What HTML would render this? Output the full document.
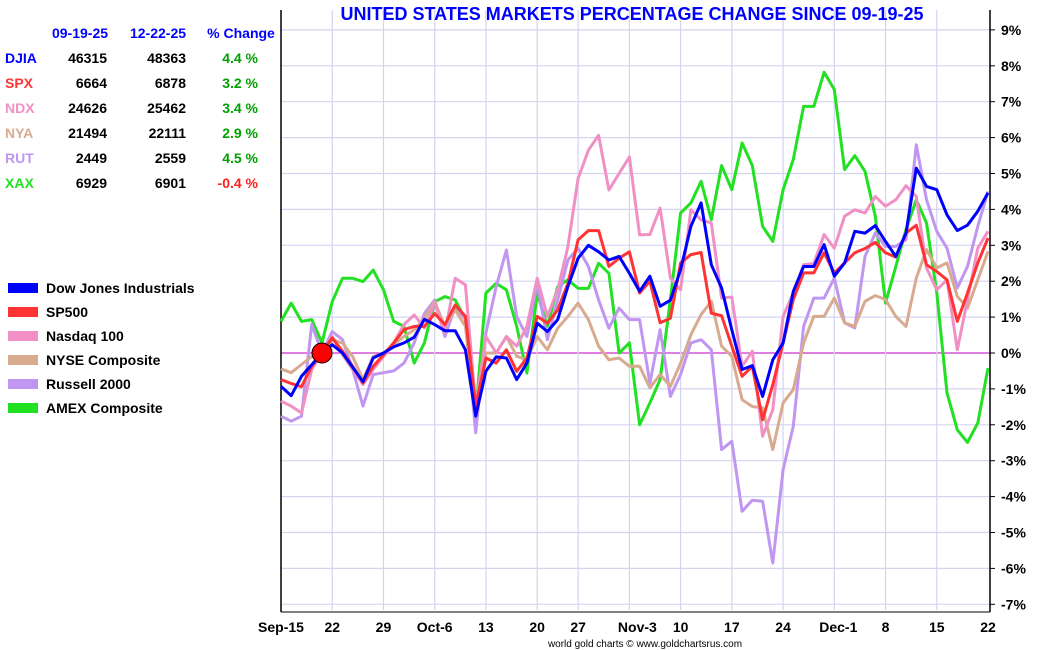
<!DOCTYPE html>
<html><head><meta charset="utf-8">
<style>
body{margin:0;background:#fff;width:1050px;height:650px;overflow:hidden;font-family:"Liberation Sans",sans-serif;}
svg{position:absolute;left:0;top:0}
text{font-family:"Liberation Sans",sans-serif;}
</style></head>
<body>
<svg id="chart" width="1050" height="650"></svg>
<script>
const dates=["Sep-15","22","29","Oct-6","13","20","27","Nov-3","10","17","24","Dec-1","8","15","22"];
const tickIdx=[0,5,10,15,20,25,29,34,39,44,49,54,59,64,69];
const yTicks=[9,8,7,6,5,4,3,2,1,0,-1,-2,-3,-4,-5,-6,-7];
const djia=[-0.93,-1.19,-0.65,-0.33,0,0.23,0,-0.4,-0.8,-0.14,0,0.17,0.28,0.44,0.94,0.79,0.62,0.62,0.09,-1.76,-0.51,-0.11,-0.14,-0.74,-0.28,0.83,0.6,0.93,1.85,2.64,3.0,2.82,2.59,2.69,2.22,1.72,2.14,1.3,1.47,2.32,3.53,4.18,2.46,1.81,0.65,-0.46,-0.35,-1.21,-0.19,0.28,1.72,2.41,2.41,3.02,2.14,2.51,3.39,3.34,3.55,3.11,2.69,3.34,5.15,4.64,4.55,3.85,3.41,3.56,3.95,4.46];
const spx=[-0.74,-0.85,-0.94,-0.37,0,0.42,0.05,-0.37,-0.83,-0.37,-0.05,0.28,0.65,0.74,0.74,1.1,0.79,1.34,1.02,-1.48,-0.14,-0.28,0.09,-0.51,-0.14,1.02,0.83,1.2,1.94,3.15,3.41,3.41,2.41,2.64,2.82,1.67,2.0,0.84,0.97,2.51,2.74,2.8,1.11,1.04,0.19,-0.65,-0.37,-1.86,-0.88,0.28,1.49,2.23,2.23,2.79,2.23,2.51,2.79,2.91,3.08,2.79,2.67,3.34,3.56,2.46,2.27,2.04,0.88,1.67,2.51,3.2];
const ndx=[-1.34,-1.48,-1.67,-0.46,0,0.46,-0.05,-0.46,-0.88,-0.46,-0.1,0.28,0.79,1.06,0.7,1.39,0.56,2.08,1.9,-1.48,0.46,0,0.46,0.19,0.74,2.08,1.02,1.76,2.96,4.86,5.65,6.06,4.54,5.0,5.46,3.29,3.3,4.04,2.09,1.76,3.99,3.71,3.62,1.53,1.56,-0.37,0.05,-2.32,-1.58,1.02,1.67,2.46,2.49,3.3,2.92,3.81,3.99,3.9,4.36,4.09,4.27,4.66,4.36,2.37,1.76,2.04,0.09,1.49,2.92,3.39];
const nya=[-0.44,-0.55,-0.32,-0.1,0,0.37,0.28,-0.1,-0.74,-0.1,0,0.23,0.46,0.65,0.97,1.43,0.74,1.2,0.74,-1.67,0,0,0.46,-0.09,-0.19,0.46,0.09,0.69,1.02,1.39,0.93,0.19,-0.19,-0.14,-0.37,-0.37,-0.97,-0.6,-0.93,-0.28,0.51,1.07,1.44,0.19,-0.09,-1.3,-1.49,-1.53,-2.69,-1.39,-1.02,0.28,1.02,1.02,1.53,0.84,0.74,1.44,1.6,1.49,1.02,0.74,2.09,2.88,2.37,2.51,1.58,1.25,2.04,2.83];
const rut=[-1.76,-1.9,-1.76,0.79,0,0.6,0.37,-0.46,-1.48,-0.6,-0.55,-0.5,-0.28,0.28,1.1,1.48,0.46,1.3,0.93,-2.22,0.56,1.85,2.87,1.02,0.46,1.94,0.37,1.48,2.59,2.92,2.41,1.48,0.69,1.25,0.93,0.93,-0.84,0.65,-1.21,-0.6,0.28,0.37,0.09,-2.69,-2.46,-4.41,-4.1,-4.13,-5.85,-3.25,-2.04,0.74,1.53,1.53,2.09,0.84,0.7,2.69,3.34,2.97,2.97,3.16,5.8,4.27,3.39,2.92,1.81,2.41,3.53,4.5];
const xax=[0.88,1.39,0.88,0.93,0.28,1.43,2.08,2.08,1.99,2.31,1.76,0.88,0.74,-0.28,0.28,1.43,1.57,1.48,0.93,-1.67,1.67,1.94,1.76,0.74,-0.56,1.67,0.74,1.85,2.04,1.8,1.8,2.5,2.22,0,0.28,-2.0,-1.39,-0.74,1.49,3.9,4.18,4.78,3.71,5.22,4.55,5.85,5.22,3.53,3.11,4.55,5.39,6.87,6.87,7.82,7.34,5.11,5.5,5.06,3.81,1.39,2.41,3.44,4.27,3.62,1.67,-1.11,-2.14,-2.49,-1.95,-0.42];
const tickers=["DJIA","SPX","NDX","NYA","RUT","XAX"];
const startVals=["46315","6664","24626","21494","2449","6929"];
const endVals=["48363","6878","25462","22111","2559","6901"];
const pctVals=["4.4 %","3.2 %","3.4 %","2.9 %","4.5 %","-0.4 %"];
const legendNames=["Dow Jones Industrials","SP500","Nasdaq 100","NYSE Composite","Russell 2000","AMEX Composite"];
const colors=["#0000ff","#ff3333","#f090c4","#d8aa90","#c096f0","#22e022"];

const svg=document.getElementById('chart');
const NS="http://www.w3.org/2000/svg";
const X0=281,X1=988,Y0=353,PPU=35.9;
function xs(i){return X0+i*(X1-X0)/69;}
function ys(v){return Y0-v*PPU;}
function mk(tag,attrs,parent){const e=document.createElementNS(NS,tag);for(const k in attrs)e.setAttribute(k,attrs[k]);(parent||svg).appendChild(e);return e;}

const grid=mk('g',{});


yTicks.forEach(v=>{
  const l=mk('line',{x1:X0,x2:990,y1:ys(v),y2:ys(v),stroke:v===0?'#cc33cc':'#d4d4f0','stroke-width':v===0?1.2:1.2},grid);
  
  
  const tk=mk('line',{x1:990,x2:995,y1:ys(v),y2:ys(v),stroke:'#000','stroke-width':1});
  
  
  const t=mk('text',{x:1001,y:ys(v)+5,'font-size':'14','font-weight':'bold',fill:'#000'});
  t.textContent=v+'%';
  
  
});
tickIdx.forEach((ti,k)=>{
  const x=xs(ti);
  if(k>0&&k<tickIdx.length-1){
    const l=mk('line',{x1:x,x2:x,y1:10,y2:610,stroke:'#d4d4f0','stroke-width':1.2},grid);
    
    
  }
  const t=mk('text',{x:x+(k===0?0:(k===7?8:(k===11?4:0))),y:632,'font-size':'14','font-weight':'bold','text-anchor':'middle',fill:'#000'});
  t.textContent=dates[k];
  
  
});
const la=mk('line',{x1:X0,x2:X0,y1:10,y2:612,stroke:'#000','stroke-width':1.5});


const ra=mk('line',{x1:990,x2:990,y1:10,y2:612,stroke:'#000','stroke-width':1.5});


const xa=mk('line',{x1:X0,x2:990,y1:612,y2:612,stroke:'#000','stroke-width':1});



const series=[djia,spx,ndx,nya,rut,xax];
const sNames=["djia-line","spx-line","ndx-line","nya-line","rut-line","xax-line"];
[5,4,3,2,1,0].forEach(s=>{
  const d=series[s].map((v,i)=>(i?'L':'M')+xs(i).toFixed(1)+','+ys(v).toFixed(1)).join('');
  const p=mk('path',{d:d,fill:'none',stroke:colors[s],'stroke-width':3,'stroke-linejoin':'round'});
  
  
});
const dot=mk('circle',{cx:xs(4),cy:ys(0),r:10,fill:'#ff0000',stroke:'#000','stroke-width':1});



const title=mk('text',{x:632,y:20,'font-size':'18','font-weight':'bold','text-anchor':'middle',fill:'#0000ff'});
title.textContent='UNITED STATES MARKETS PERCENTAGE CHANGE SINCE 09-19-25';



[["09-19-25",80],["12-22-25",158],["% Change",241]].forEach(h=>{
  const t=mk('text',{x:h[1],y:38,'font-size':'14','font-weight':'bold','text-anchor':'middle',fill:'#0000ff'});
  t.textContent=h[0];
  
  
});
tickers.forEach((tk,r)=>{
  const y=63+r*25;
  const a=mk('text',{x:5,y:y,'font-size':'14','font-weight':'bold',fill:colors[r]});
  a.textContent=tk;
  
  
  const b=mk('text',{x:107,y:y,'font-size':'14','font-weight':'bold','text-anchor':'end',fill:'#000'});
  b.textContent=startVals[r];
  
  
  const c=mk('text',{x:186,y:y,'font-size':'14','font-weight':'bold','text-anchor':'end',fill:'#000'});
  c.textContent=endVals[r];
  
  
  const d=mk('text',{x:258,y:y,'font-size':'14','font-weight':'bold','text-anchor':'end',fill:pctVals[r].startsWith('-')?'#ff2020':'#00a000'});
  d.textContent=pctVals[r];
  
  
});
legendNames.forEach((n,r)=>{
  const y=288+r*24;
  const rc=mk('rect',{x:8,y:y-5,width:30,height:10,fill:colors[r]});
  
  
  const t=mk('text',{x:46,y:y+5,'font-size':'14','font-weight':'bold',fill:'#000'});
  t.textContent=n;
  
  
});
const ft=mk('text',{x:645,y:647,'font-size':'10',fill:'#000','text-anchor':'middle'});
ft.textContent='world gold charts © www.goldchartsrus.com';


</script>
</body></html>
